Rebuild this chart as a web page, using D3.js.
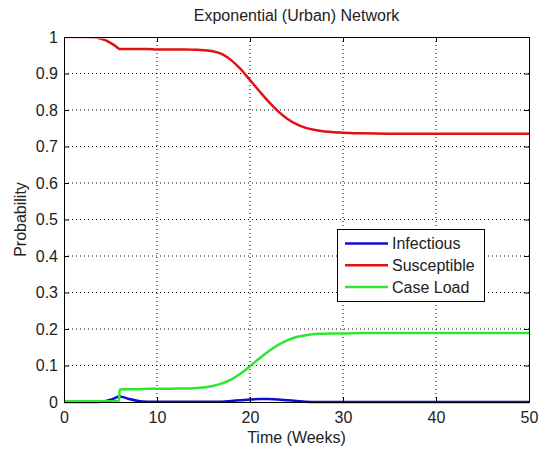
<!DOCTYPE html>
<html>
<head>
<meta charset="utf-8">
<script src="https://cdn.jsdelivr.net/npm/d3@7"></script>
<style>
  body { margin: 0; background: #fff; }
  text { font-family: "Liberation Sans", Arial, sans-serif; fill: #222; }
</style>
</head>
<body>
<div id="chart"></div>
<script>
// time grid (weeks) shared by all series
var weeks = [0, 1, 2, 3, 4, 5, 5.5, 5.9, 6, 7, 8, 9, 10, 11, 12, 13, 14, 15, 16, 17, 18, 19,
    20, 21, 22, 23, 24, 25, 26, 27, 28, 29, 30, 32, 35, 40, 45, 50];

var infectious = [0, 0, 0, 0, 0.001, 0.006, 0.011, 0.015, 0.015, 0.008, 0.003, 0.001, 0.0005, 0.0005,
    0.0005, 0.0005, 0.0005, 0.0005, 0.0005, 0.001, 0.003, 0.005, 0.007, 0.008, 0.008, 0.007, 0.005,
    0.003, 0.001, 0, 0, 0, 0, 0, 0, 0, 0, 0];

var susceptible = [1, 1, 1, 0.999, 0.995, 0.984, 0.976, 0.968, 0.967, 0.967, 0.967, 0.967, 0.966,
    0.966, 0.966, 0.966, 0.965, 0.964, 0.961, 0.953, 0.936, 0.912, 0.882, 0.852, 0.823, 0.797, 0.776,
    0.761, 0.751, 0.745, 0.741, 0.739, 0.738, 0.736, 0.735, 0.735, 0.735, 0.735];

var caseLoad = [0.002, 0.002, 0.002, 0.002, 0.002, 0.002, 0.002, 0.003, 0.034, 0.035, 0.035, 0.036,
    0.036, 0.036, 0.037, 0.037, 0.038, 0.040, 0.044, 0.051, 0.062, 0.078, 0.098, 0.119, 0.139, 0.156,
    0.169, 0.178, 0.183, 0.186, 0.187, 0.188, 0.188, 0.189, 0.189, 0.189, 0.189, 0.189];

var seriesNames = ["Infectious", "Susceptible", "Case Load"];
var seriesColors = ["#0c0cd2", "#e01212", "#2ee62e"];
var xTicks = [0, 10, 20, 30, 40, 50];
var yTicks = [0, 0.1, 0.2, 0.3, 0.4, 0.5, 0.6, 0.7, 0.8, 0.9, 1];

var width = 540, height = 451;
var margin = { top: 37, right: 11, bottom: 49, left: 64 };
var plotW = width - margin.left - margin.right,
    plotH = height - margin.top - margin.bottom;

var svg = d3.select("#chart").append("svg")
    .attr("width", width)
    .attr("height", height);

var g = svg.append("g")
    .attr("transform", "translate(" + margin.left + "," + margin.top + ")");

var x = d3.scaleLinear().domain([0, 50]).range([0, plotW]);
var y = d3.scaleLinear().domain([0, 1]).range([plotH, 0]);

// dotted grid
g.append("g").selectAll("line")
    .data(xTicks.slice(1, -1))
    .enter().append("line")
    .attr("x1", function (d) { return x(d); })
    .attr("x2", function (d) { return x(d); })
    .attr("y1", 0).attr("y2", plotH)
    .attr("stroke", "#000").attr("stroke-width", 1)
    .attr("stroke-dasharray", "1,3");
g.append("g").selectAll("line")
    .data(yTicks.slice(1, -1))
    .enter().append("line")
    .attr("y1", function (d) { return y(d); })
    .attr("y2", function (d) { return y(d); })
    .attr("x1", 0).attr("x2", plotW)
    .attr("stroke", "#000").attr("stroke-width", 1)
    .attr("stroke-dasharray", "1,3");

// clip the curves to the plot area (top edge hides the line sitting at 1)
svg.append("defs").append("clipPath").attr("id", "plotClip")
    .append("rect").attr("y", 1.5).attr("width", plotW).attr("height", plotH + 2);

var allSeries = [infectious, susceptible, caseLoad];
var line = d3.line()
    .x(function (d, i) { return x(weeks[i]); })
    .y(function (d) { return y(d); })
    .curve(d3.curveMonotoneX);

g.append("g").attr("clip-path", "url(#plotClip)")
    .selectAll("path")
    .data(allSeries)
    .enter().append("path")
    .attr("d", line)
    .attr("fill", "none")
    .attr("stroke", function (d, i) { return seriesColors[i]; })
    .attr("stroke-width", 2.5)
    .attr("stroke-linejoin", "round");

// axes: inward ticks on all sides, matlab style
var axBottom = d3.axisBottom(x).tickValues(xTicks).tickSize(-5).tickPadding(10).tickFormat(d3.format("d"));
var axTop = d3.axisTop(x).tickValues(xTicks).tickSize(-5).tickFormat("");
var axLeft = d3.axisLeft(y).tickValues(yTicks).tickSize(-5).tickPadding(6).tickFormat(function (d) { return d3.format("")(d); });
var axRight = d3.axisRight(y).tickValues(yTicks).tickSize(-5).tickFormat("");

function styleAxis(sel) {
    sel.select(".domain").remove();
    sel.selectAll("line").attr("stroke", "#000");
    sel.selectAll("text")
        .style("font-family", "'Liberation Sans', Arial, sans-serif")
        .style("font-size", "16px")
        .attr("fill", "#222");
}

g.append("g").attr("transform", "translate(0," + plotH + ")").call(axBottom).call(styleAxis);
g.append("g").call(axTop).call(styleAxis);
g.append("g").call(axLeft).call(styleAxis);
g.append("g").attr("transform", "translate(" + plotW + ",0)").call(axRight).call(styleAxis);

g.append("rect")
    .attr("x", 0.5).attr("y", 0.5)
    .attr("width", plotW).attr("height", plotH)
    .attr("fill", "none").attr("stroke", "#000").attr("stroke-width", 1);

// title and axis labels
svg.append("text")
    .attr("x", margin.left + plotW / 2)
    .attr("y", 21)
    .attr("text-anchor", "middle")
    .style("font-size", "16px")
    .text("Exponential (Urban) Network");

svg.append("text")
    .attr("x", margin.left + plotW / 2)
    .attr("y", 443)
    .attr("text-anchor", "middle")
    .style("font-size", "16px")
    .text("Time (Weeks)");

svg.append("text")
    .attr("transform", "translate(26," + (margin.top + plotH / 2) + ")rotate(-90)")
    .attr("text-anchor", "middle")
    .style("font-size", "16px")
    .text("Probability");

// legend
var legend = svg.append("g").attr("transform", "translate(337,229)");
legend.append("rect")
    .attr("x", 0.5).attr("y", 0.5)
    .attr("width", 147).attr("height", 72)
    .attr("fill", "#fff").attr("stroke", "#000").attr("stroke-width", 1);

var rows = legend.selectAll("g.row")
    .data(seriesNames)
    .enter().append("g")
    .attr("class", "row")
    .attr("transform", function (d, i) { return "translate(0," + (14.5 + i * 21.7) + ")"; });
rows.append("line")
    .attr("x1", 8).attr("x2", 51)
    .attr("stroke", function (d, i) { return seriesColors[i]; })
    .attr("stroke-width", 2.5);
rows.append("text")
    .attr("x", 55)
    .attr("dy", "0.35em")
    .style("font-size", "16px")
    .text(function (d) { return d; });
</script>
</body>
</html>
